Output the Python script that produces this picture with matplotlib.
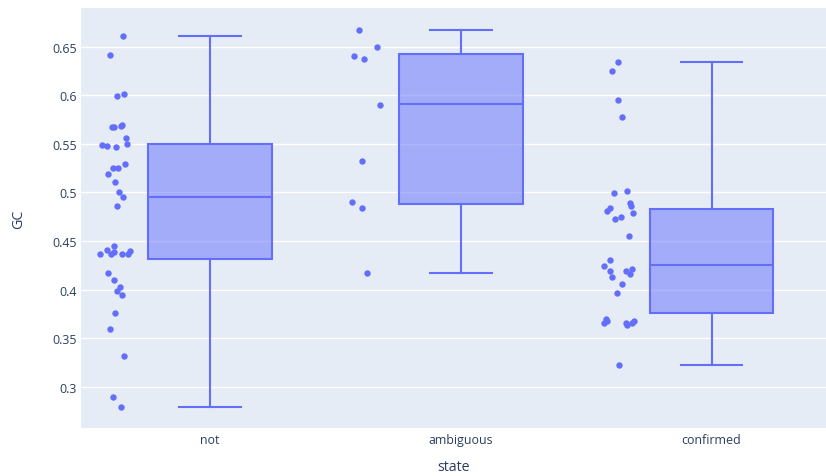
import matplotlib.pyplot as plt
import numpy as np
from matplotlib.ticker import FuncFormatter

# GC content per prediction state, box + all points (plotly-like look)

states = ["not", "ambiguous", "confirmed"]

gc_not = [0.6606, 0.641, 0.5994, 0.6018, 0.567, 0.567, 0.568, 0.5695, 0.5556, 0.5492,
          0.5474, 0.5467, 0.5495, 0.5293, 0.5256, 0.5252, 0.5194, 0.5105, 0.5000, 0.4955,
          0.4862, 0.4452, 0.4411, 0.4364, 0.4364, 0.4384, 0.4364, 0.4364, 0.4398, 0.4169,
          0.4100, 0.4031, 0.3987, 0.3946, 0.3754, 0.3594, 0.3313, 0.2897, 0.2790]
gc_ambiguous = [0.667, 0.6497, 0.640, 0.6374, 0.5895, 0.532, 0.490, 0.4838, 0.4172]
gc_confirmed = [0.6343, 0.625, 0.5946, 0.5779, 0.5016, 0.4989, 0.4887, 0.4862, 0.4784,
                0.481, 0.4838, 0.4725, 0.4745, 0.4548, 0.4308, 0.4247, 0.4192, 0.4128,
                0.4192, 0.4213, 0.4165, 0.4062, 0.3964, 0.370, 0.3656, 0.3672, 0.3652,
                0.3638, 0.3679, 0.3656, 0.3221]

# box statistics per state (lower fence, q1, median, q3, upper fence)
box_lo = [0.2790, 0.4172, 0.3221]
box_q1 = [0.4315, 0.4880, 0.3760]
box_med = [0.4957, 0.5905, 0.4254]
box_q3 = [0.5498, 0.6425, 0.4830]
box_hi = [0.6606, 0.6670, 0.6343]

# horizontal jitter of the points (category units, left of each box)
jit_not = [-0.347, -0.397, -0.372, -0.342, -0.392, -0.384, -0.355, -0.350, -0.334, -0.430,
           -0.410, -0.374, -0.331, -0.339, -0.386, -0.368, -0.405, -0.380, -0.364, -0.347,
           -0.370, -0.384, -0.412, -0.440, -0.395, -0.384, -0.352, -0.326, -0.318, -0.408,
           -0.384, -0.358, -0.371, -0.351, -0.378, -0.397, -0.343, -0.388, -0.354]
jit_ambiguous = [-0.407, -0.335, -0.427, -0.386, -0.324, -0.395, -0.434, -0.394, -0.374]
jit_confirmed = [-0.372, -0.398, -0.373, -0.357, -0.337, -0.388, -0.326, -0.320, -0.314,
                 -0.418, -0.403, -0.385, -0.362, -0.331, -0.403, -0.428, -0.403, -0.395,
                 -0.343, -0.319, -0.324, -0.357, -0.375, -0.422, -0.428, -0.418, -0.343,
                 -0.339, -0.311, -0.316, -0.368]

blue = "#636efa"
txt = "#2a3f5f"
plt.rcParams["font.family"] = ["Open Sans", "DejaVu Sans"]

fig = plt.figure(figsize=(8.26, 4.77), dpi=100)
ax = fig.add_axes([81 / 826, 1 - 429.3 / 477, 745 / 826, 420 / 477])
ax.set_facecolor("#e5ecf6")

stats = []
for i, s in enumerate(states):
    stats.append(dict(label=s, whislo=box_lo[i], q1=box_q1[i], med=box_med[i],
                      q3=box_q3[i], whishi=box_hi[i], fliers=[]))

pos = np.arange(len(states))
ax.bxp(stats, positions=pos, widths=0.494, patch_artist=True, showfliers=False,
       boxprops=dict(facecolor=(99 / 255, 110 / 255, 250 / 255, 0.5), edgecolor=blue, linewidth=1.5),
       medianprops=dict(color=blue, linewidth=1.5),
       whiskerprops=dict(color=blue, linewidth=1.5),
       capprops=dict(color=blue, linewidth=1.5), capwidths=0.247, zorder=3)

for i, (vals, jit) in enumerate([(gc_not, jit_not), (gc_ambiguous, jit_ambiguous),
                                 (gc_confirmed, jit_confirmed)]):
    ax.plot(i + np.array(jit), vals, "o", color=blue, markersize=4.6,
            markeredgewidth=0, zorder=4)

ax.set_xlim(-0.5145, 2.4566)
ax.set_ylim(0.2572, 0.6895)
ax.set_xticks(pos)
ax.set_xticklabels(states)
ax.set_yticks([0.3, 0.35, 0.4, 0.45, 0.5, 0.55, 0.6, 0.65])
ax.yaxis.set_major_formatter(FuncFormatter(lambda v, p: "%g" % round(v, 2)))
ax.grid(axis="y", color="white", linewidth=1)
ax.set_axisbelow(True)
for sp in ax.spines.values():
    sp.set_visible(False)
ax.tick_params(length=0, labelsize=8.9, labelcolor=txt)
ax.tick_params(axis="x", pad=3.5)
ax.tick_params(axis="y", pad=3)
ax.set_xlabel("state", fontsize=10.3, color=txt, labelpad=9)
ax.set_ylabel("GC", fontsize=10.3, color=txt, labelpad=19)

fig.savefig("out.png", dpi=100)
